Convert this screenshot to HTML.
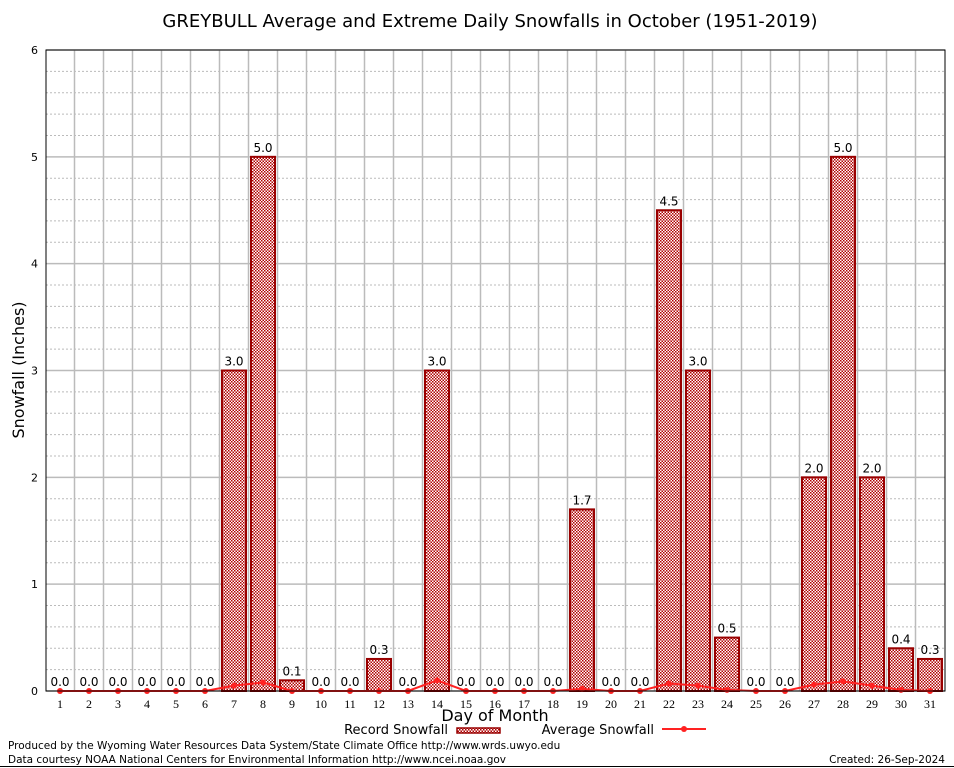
<!DOCTYPE html>
<html><head><meta charset="utf-8"><style>
body{margin:0;background:#fff}
svg{display:block;font-family:"DejaVu Sans","Liberation Sans",sans-serif}
</style></head><body>
<svg id="c" width="954" height="768">
<defs><pattern id="chk" width="3" height="3" patternUnits="userSpaceOnUse">
<rect width="3" height="3" fill="#fff"/><rect width="1.5" height="1.5" fill="#b00000"/><rect x="1.5" y="1.5" width="1.5" height="1.5" fill="#b00000"/></pattern></defs>
<text x="490" y="27" font-size="18" text-anchor="middle">GREYBULL Average and Extreme Daily Snowfalls in October (1951-2019)</text>
<g id="grid"></g><g id="bars"></g><g id="line"></g><g id="ax"></g>
<text transform="translate(24,370) rotate(-90)" font-size="16" text-anchor="middle">Snowfall (Inches)</text>
<text x="495" y="721" font-size="16" text-anchor="middle">Day of Month</text>
<g><text x="448" y="734" font-size="13" text-anchor="end">Record Snowfall</text><rect x="457" y="728" width="43" height="5" fill="url(#chk)" stroke="#990000" stroke-width="1.5"/></g>
<g><text x="654" y="734" font-size="13" text-anchor="end">Average Snowfall</text><line x1="662" y1="729" x2="706" y2="729" stroke="#f22" stroke-width="2"/><circle cx="684" cy="729" r="3" fill="#f22"/></g>
<text x="8" y="749" font-size="10.5">Produced by the Wyoming Water Resources Data System/State Climate Office http://www.wrds.uwyo.edu</text>
<text x="8" y="763" font-size="10.5">Data courtesy NOAA National Centers for Environmental Information http://www.ncei.noaa.gov</text>
<text x="945" y="763" font-size="10.5" text-anchor="end">Created: 26-Sep-2024</text>
<line x1="0" y1="766.5" x2="954" y2="766.5" stroke="#000"/>
</svg>
<script>
const days=[1,2,3,4,5,6,7,8,9,10,11,12,13,14,15,16,17,18,19,20,21,22,23,24,25,26,27,28,29,30,31];
const record=[0,0,0,0,0,0,3.0,5.0,0.1,0,0,0.3,0,3.0,0,0,0,0,1.7,0,0,4.5,3.0,0.5,0,0,2.0,5.0,2.0,0.4,0.3];
const average=[0,0,0,0,0,0,0.05,0.08,0,0,0,0,0,0.1,0,0,0,0,0.02,0,0,0.07,0.05,0.01,0,0,0.06,0.09,0.05,0.01,0];
const yTicks=[0,1,2,3,4,5,6];
const L=46,R=945,T=50,B=691,NS="http://www.w3.org/2000/svg";
const x=d=>60+(d-1)*29, y=v=>B-(v/6)*(B-T);
function mk(p,t,a){const e=document.createElementNS(NS,t);for(const k in a)e.setAttribute(k,a[k]);document.getElementById(p).appendChild(e);return e;}
for(let v=0.2;v<6;v+=0.2){if(Math.abs(v-Math.round(v))<0.01)continue;const e=mk('grid','line',{x1:L,x2:R,y1:y(v),y2:y(v),stroke:'#bbb','stroke-dasharray':'2,2'});

}
yTicks.forEach(v=>{const e=mk('grid','line',{x1:L,x2:R,y1:y(v),y2:y(v),stroke:'#bbb','stroke-width':1.5});


const t=mk('ax','text',{x:L-8,y:y(v)+4,'font-size':11,'text-anchor':'end'});t.textContent=v;

});
days.forEach((d,i)=>{if(i<days.length-1){const g=mk('grid','line',{x1:x(d)+14.5,x2:x(d)+14.5,y1:T,y2:B,stroke:'#bbb','stroke-width':1.5});

}
const v=record[i];
if(v>0){const b=mk('bars','rect',{x:x(d)-12,y:y(v),width:24,height:B-y(v),fill:'url(#chk)',stroke:'#990000','stroke-width':2});

}
const t=mk('bars','text',{x:x(d),y:y(v)-5,'font-size':12,'text-anchor':'middle'});t.textContent=v.toFixed(1);


const xl=mk('ax','text',{x:x(d),y:B+17,'font-size':12,'text-anchor':'middle','font-family':'Liberation Serif, serif'});xl.textContent=d;

});
const pl=mk('line','polyline',{points:days.map((d,i)=>x(d)+','+y(average[i])).join(' '),fill:'none',stroke:'#f22','stroke-width':2});


days.forEach((d,i)=>{const c=mk('line','circle',{cx:x(d),cy:y(average[i]),r:3,fill:'#f22'});

});
const fr=mk('ax','rect',{x:L,y:T,width:R-L,height:B-T,fill:'none',stroke:'#000'});


</script>
</body></html>
